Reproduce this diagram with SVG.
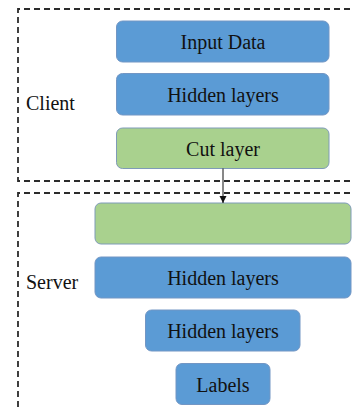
<svg xmlns="http://www.w3.org/2000/svg" width="354" height="411" viewBox="0 0 354 411">
<defs>
<style>
.region{fill:none;stroke:#2b2b2b;stroke-width:1.8;stroke-dasharray:6,4}
.blue{fill:#5b9bd5;stroke:#7296c4;stroke-width:1}
.green{fill:#a9d18e;stroke:#7f9bb8;stroke-width:1}
.t{font-family:'Liberation Serif','Times New Roman',Times,serif;font-size:20px;fill:#111}
.c{text-anchor:middle}
</style>
<marker id="arr" markerWidth="8" markerHeight="8" refX="7" refY="4" orient="auto" markerUnits="userSpaceOnUse">
<path d="M0,0.5 L7,4 L0,7.5 Z" fill="#111"/>
</marker>
</defs>
<rect width="354" height="411" fill="#fff"/>
<g id="client">
<path class="region" d="M360,9 H18 V181 H360"/>
<text class="t" x="26" y="110" font-family="Liberation Serif, serif">Client</text>
</g>
<g id="server">
<path class="region" d="M360,193 H18 V420"/>
<text class="t" x="26" y="289" font-family="Liberation Serif, serif">Server</text>
</g>
<g id="input-data">
<rect class="blue" x="116.5" y="21" width="212.5" height="41" rx="6"/>
<text class="t c" x="223" y="49" font-family="Liberation Serif, serif">Input Data</text>
</g>
<g id="client-hidden">
<rect class="blue" x="116.5" y="73.5" width="212.5" height="41.5" rx="6"/>
<text class="t c" x="223" y="102" font-family="Liberation Serif, serif">Hidden layers</text>
</g>
<g id="cut-layer">
<rect class="green" x="116.5" y="128" width="212.5" height="40.5" rx="6"/>
<text class="t c" x="223" y="156" font-family="Liberation Serif, serif">Cut layer</text>
</g>
<g id="server-input">
<rect class="green" x="95" y="203" width="256" height="41" rx="6"/>
</g>
<g id="server-hidden-1">
<rect class="blue" x="95" y="257" width="256" height="41" rx="6"/>
<text class="t c" x="223" y="285" font-family="Liberation Serif, serif">Hidden layers</text>
</g>
<g id="server-hidden-2">
<rect class="blue" x="145.5" y="310" width="154.5" height="41" rx="6"/>
<text class="t c" x="223" y="338" font-family="Liberation Serif, serif">Hidden layers</text>
</g>
<g id="labels">
<rect class="blue" x="176" y="363.5" width="94" height="41" rx="6"/>
<text class="t c" x="223" y="392" font-family="Liberation Serif, serif">Labels</text>
</g>
<g id="connectors">
<line x1="223" y1="168.5" x2="223" y2="203" stroke="#111" stroke-width="1" marker-end="url(#arr)"/>
</g>
</svg>
